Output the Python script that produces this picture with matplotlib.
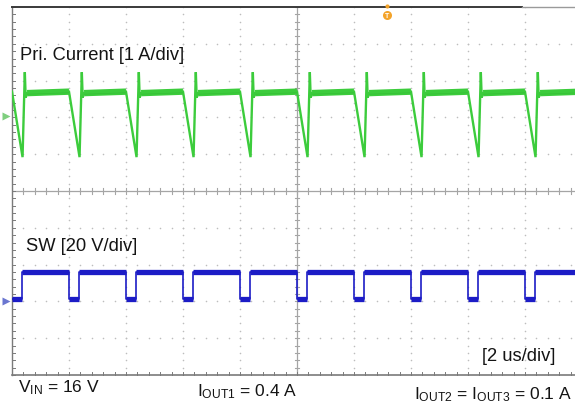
import numpy as np
import matplotlib
matplotlib.use("Agg")
import matplotlib.pyplot as plt

# ---------------- data (read from the scope capture) ----------------
# time base: 2 us/div, 10 divisions
fall_start_us = [0.0, 2.0, 4.0, 6.0, 8.0, 10.0, 12.0, 14.0, 16.0, 18.0]
valley_us     = [0.37, 2.37, 4.37, 6.37, 8.37, 10.37, 12.37, 14.37, 16.37, 18.37]
rise_us       = [0.45, 2.45, 4.45, 6.45, 8.45, 10.45, 12.45, 14.45, 16.45, 18.45]
sw_fall_us    = [0.0, 2.0, 4.0, 6.0, 8.0, 10.0, 12.0, 14.0, 16.0, 18.0]
sw_rise_us    = [0.36, 2.36, 4.36, 6.36, 8.36, 10.36, 12.36, 14.36, 16.36, 18.36]

# primary current levels (A), 1 A/div
i_plateau_start = 0.62
i_plateau_end = 0.66
i_spike = 1.19
i_ring = 0.50
i_valley = -1.12
i_ground_div = 7.04          # channel ground marker position (div from bottom)

# switch node levels (V), 20 V/div
v_high = 15.8
v_low = 0.9
v_ground_div = 2.01

t_end_us = 20.0

labels = {
    "ch1": "Pri. Current [1 A/div]",
    "ch2": "SW [20 V/div]",
    "time": "[2 us/div]",
    "vin": r"V$_{\mathrm{IN}}$ = 16 V",
    "iout1": r"I$_{\mathrm{OUT1}}$ = 0.4 A",
    "iout23": r"I$_{\mathrm{OUT2}}$ = I$_{\mathrm{OUT3}}$ = 0.1 A",
}

# ---------------- figure ----------------
plt.rcParams['font.family'] = ['Liberation Sans', 'DejaVu Sans']
plt.rcParams['mathtext.fontset'] = 'custom'
plt.rcParams['mathtext.rm'] = 'Liberation Sans'
plt.rcParams['mathtext.it'] = 'Liberation Sans:italic'
plt.rcParams['mathtext.bf'] = 'Liberation Sans:bold'

W, H = 575, 406
fig = plt.figure(figsize=(W / 100, H / 100), dpi=100)
fig.patch.set_facecolor('white')

x0, x1 = 12, 582
y0, y1 = 8, 376
ax = fig.add_axes([x0 / W, (H - y1) / H, (x1 - x0) / W, (y1 - y0) / H])
ax.set_xlim(0, t_end_us)
ax.set_ylim(0, 10)
ax.axis('off')

us_per_div = 2.0

# dotted grid
gc = '#bdbdbd'
for gy in range(1, 10):
    if gy == 5:
        continue
    xs = np.arange(0, t_end_us + 0.01, us_per_div / 5)
    ax.scatter(xs, np.full_like(xs, gy), s=1.3, color=gc, linewidths=0, zorder=1)
for gx in range(1, 10):
    if gx == 5:
        continue
    ys = np.arange(0, 10.01, 0.2)
    ax.scatter(np.full_like(ys, gx * us_per_div), ys, s=1.3, color=gc, linewidths=0, zorder=1)

# center cross with minor ticks
cc = '#a5a5a5'
ax.axhline(5, color=cc, lw=0.9, zorder=1)
ax.axvline(5 * us_per_div, color=cc, lw=0.9, zorder=1)
for xt in np.arange(0, t_end_us + 0.01, us_per_div / 5):
    ax.plot([xt, xt], [4.92, 5.08], color=cc, lw=0.8, zorder=1)
for yt in np.arange(0, 10.01, 0.2):
    ax.plot([10 - 0.07, 10 + 0.07], [yt, yt], color=cc, lw=0.8, zorder=1)

# borders
bc = '#7a7a7a'
ax.plot([0, 0], [0, 10], color=bc, lw=1.0, clip_on=False, zorder=2)
ax.plot([0, t_end_us], [0, 0], color=bc, lw=1.2, clip_on=False, zorder=2)
for yt in np.arange(0, 10.01, 0.2):
    ax.plot([0, 0.09], [yt, yt], color=bc, lw=0.7, clip_on=False, zorder=2)
for xt in np.arange(0, t_end_us + 0.01, us_per_div / 5):
    ax.plot([xt, xt], [0, 0.09], color=bc, lw=0.7, clip_on=False, zorder=2)
t_bar_end = (522 - x0) / 57 * us_per_div
ax.plot([0, t_bar_end], [10, 10], color='#3a3a3a', lw=1.4, clip_on=False, zorder=2)
ax.plot([t_bar_end, t_end_us], [10, 10], color='#9a9a9a', lw=1.0, clip_on=False, zorder=2)

# ---------------- primary current trace ----------------
def cur(a):
    return i_ground_div + a / 1.0

g_main = '#3ccc3c'
g_dark = '#2aa62a'
tx, ty = [], []
plateaus = []
n = len(fall_start_us)
for k in range(n):
    tx += [fall_start_us[k], valley_us[k], rise_us[k], rise_us[k] + 0.03, rise_us[k] + 0.08]
    ty += [cur(i_plateau_end), cur(i_valley), cur(i_spike), cur(i_ring), cur(i_plateau_start)]
    nxt = fall_start_us[k + 1] if k + 1 < n else t_end_us
    plateaus.append((rise_us[k] + 0.08, nxt))
tx.append(t_end_us)
ty.append(cur(i_plateau_end))
ax.plot(tx, ty, color=g_main, lw=1.7, zorder=4, solid_joinstyle='miter')
for a, b in plateaus:
    ax.plot([a, b], [cur(i_plateau_start), cur(i_plateau_end)], color=g_main, lw=4.6,
            solid_capstyle='butt', zorder=4)
    ax.plot([a, b], [cur(i_plateau_start) - 0.03, cur(i_plateau_end) - 0.03], color=g_dark,
            lw=0.5, alpha=0.35, zorder=5)

# ---------------- switch node trace ----------------
def sw(v):
    return v_ground_div + v / 20.0

b_main = '#1c1cc6'
sx, sy = [0.0], [sw(v_low)]
lows, highs = [(0.0, sw_rise_us[0])], []
for k in range(n):
    if k > 0:
        sx += [sw_fall_us[k], sw_fall_us[k]]
        sy += [sw(v_high), sw(v_low)]
        lows.append((sw_fall_us[k], sw_rise_us[k]))
    sx += [sw_rise_us[k], sw_rise_us[k]]
    sy += [sw(v_low), sw(v_high)]
    nxt = sw_fall_us[k + 1] if k + 1 < n else t_end_us
    highs.append((sw_rise_us[k], nxt))
sx.append(t_end_us)
sy.append(sw(v_high))
ax.plot(sx, sy, color=b_main, lw=1.2, zorder=4)
for a, b in highs:
    ax.plot([a, b], [sw(v_high), sw(v_high)], color=b_main, lw=3.8, solid_capstyle='butt', zorder=4)
for a, b in lows:
    ax.plot([a, b], [sw(v_low), sw(v_low)], color=b_main, lw=3.8, solid_capstyle='butt', zorder=4)

# ground markers and trigger marker
ax.plot([-0.22], [i_ground_div], marker='>', ms=6, color='#7fcf7f', clip_on=False, zorder=6, mec='none')
ax.plot([-0.22], [v_ground_div], marker='>', ms=6, color='#6a76d0', clip_on=False, zorder=6, mec='none')
t_trig = (387 - x0) / 57 * us_per_div
ax.plot([t_trig], [9.78], marker='o', ms=6.5, color='#f3a32a', clip_on=False, zorder=6, mec='none')
ax.plot([t_trig], [10.02], marker='o', ms=3, color='#f3a32a', clip_on=False, zorder=6, mec='none')
ax.text(t_trig, 9.78, 'T', color='white', fontsize=5, ha='center', va='center', fontweight='bold', zorder=7)

# ---------------- text ----------------
def fpx(x, y):
    return x / W, 1 - y / H

tc = '#141414'
fig.text(*fpx(20, 56), labels["ch1"], fontsize=13.2, color=tc, va='center', ha='left')
fig.text(*fpx(26, 247), labels["ch2"], fontsize=13.2, color=tc, va='center', ha='left')
fig.text(*fpx(482, 357), labels["time"], fontsize=13.2, color=tc, va='center', ha='left')
fig.text(*fpx(18, 388), labels["vin"], fontsize=12.5, color=tc, va='center', ha='left')
fig.text(*fpx(197, 392), labels["iout1"], fontsize=12.5, color=tc, va='center', ha='left')
fig.text(*fpx(414, 395), labels["iout23"], fontsize=12.5, color=tc, va='center', ha='left')

fig.savefig('out.png', dpi=100)
